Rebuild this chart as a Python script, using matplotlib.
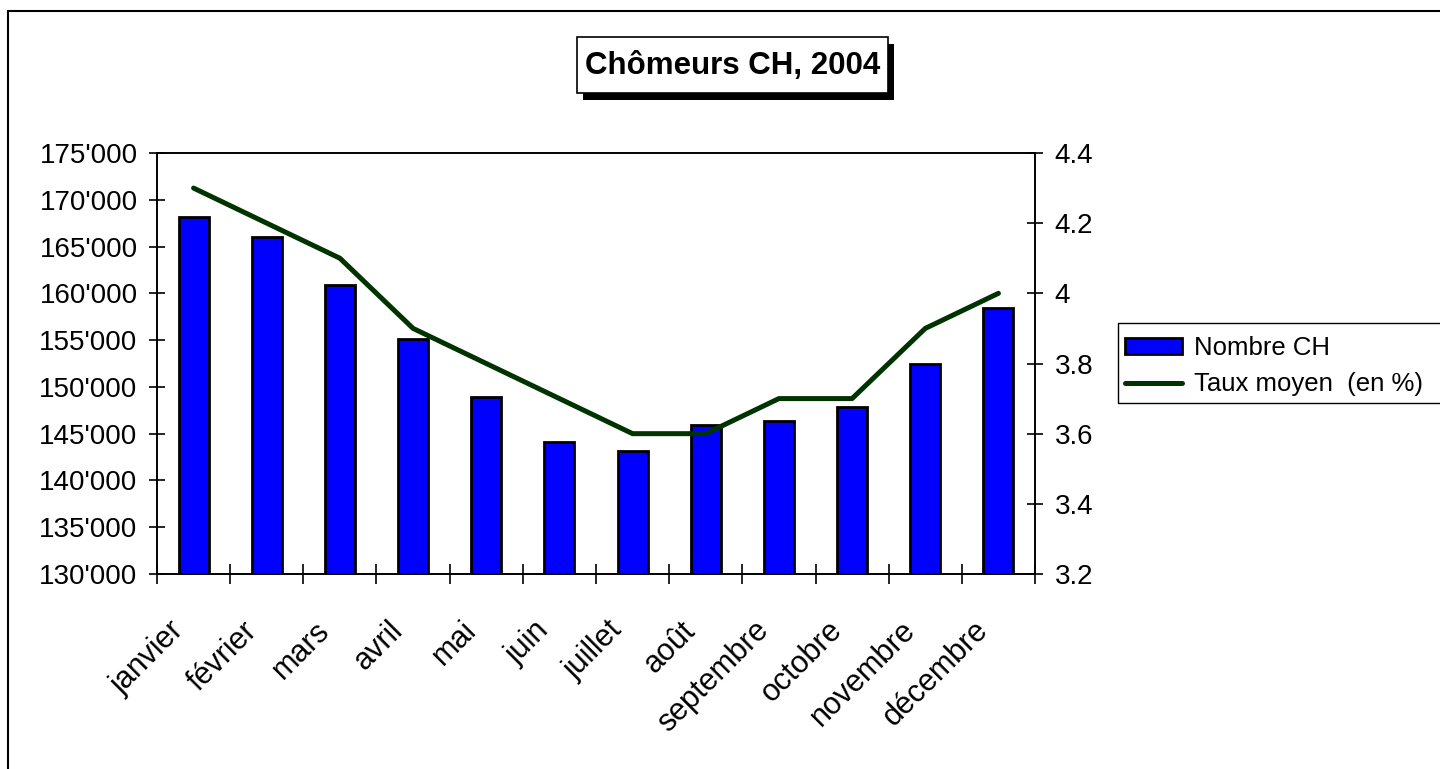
import numpy as np
import matplotlib.pyplot as plt
import matplotlib.patheffects as pe
from matplotlib.patches import Rectangle, Patch
from matplotlib.lines import Line2D
from matplotlib.ticker import FuncFormatter, FixedLocator
from matplotlib.transforms import ScaledTranslation

plt.rcParams['font.family'] = ['Liberation Sans', 'DejaVu Sans']

mois = ["janvier", "février", "mars", "avril", "mai", "juin", "juillet",
        "août", "septembre", "octobre", "novembre", "décembre"]
nombre_ch = [168200, 166000, 160900, 155100, 148900, 144100, 143100,
             145900, 146400, 147900, 152400, 158400]
taux_moyen = [4.3, 4.2, 4.1, 3.9, 3.8, 3.7, 3.6, 3.6, 3.7, 3.7, 3.9, 4.0]

fig = plt.figure(figsize=(14.4, 7.69), dpi=100)
ax = fig.add_axes([157/1440, 1-574/769, (1035-157)/1440, (574-153)/769])
ax2 = ax.twinx()

x = np.arange(len(mois))
ax.bar(x, nombre_ch, width=0.41, color='#0000ff', edgecolor='black', linewidth=2, zorder=2)
ax2.plot(x, taux_moyen, color='#003300', linewidth=3.6, solid_capstyle='round', zorder=3)

ax.set_xlim(-0.5, len(mois) - 0.5)
ax.set_ylim(130000, 175000)
ax.set_yticks(np.arange(130000, 175001, 5000))
ax.yaxis.set_major_formatter(FuncFormatter(lambda v, p: f"{int(v):,}".replace(",", "'")))
ax2.set_ylim(3.2, 4.4)
ax2.set_yticks([3.2, 3.4, 3.6, 3.8, 4.0, 4.2, 4.4])
ax2.yaxis.set_major_formatter(FuncFormatter(lambda v, p: f"{v:g}"))

# ticks between categories, labels on the centres
ax.xaxis.set_major_locator(FixedLocator(np.arange(-0.5, len(mois), 1.0)))
ax.xaxis.set_major_formatter(FuncFormatter(lambda v, p: ""))
ax.set_xticks(x, mois, minor=True)
ax.tick_params(axis='x', which='major', direction='inout', length=14, width=1.2)
ax.tick_params(axis='x', which='minor', length=0, pad=14)
shift = ScaledTranslation(-0.25, -0.22, fig.dpi_scale_trans)
for lab in ax.get_xticklabels(minor=True):
    lab.set_rotation(45)
    lab.set_ha('right')
    lab.set_va('top')
    lab.set_rotation_mode('anchor')
    lab.set_fontsize(22)
    lab.set_transform(lab.get_transform() + shift)

ax.tick_params(axis='y', direction='inout', length=12, width=1.2, labelsize=20, pad=8)
ax2.tick_params(axis='y', direction='inout', length=12, width=1.2, labelsize=20, pad=8)
for a in (ax, ax2):
    for s in a.spines.values():
        s.set_linewidth(1.2)
        s.set_color('black')

# title box with shadow
box = Rectangle((577/1440, 1-93/769), (888-577)/1440, (93-37)/769, transform=fig.transFigure,
                facecolor='white', edgecolor='black', linewidth=1.2)
box.set_path_effects([pe.SimplePatchShadow(offset=(4, -5), shadow_rgbFace='black', alpha=1), pe.Normal()])
fig.add_artist(box)
fig.text(732.5/1440, 1-66/769, "Chômeurs CH, 2004", fontsize=22.5, fontweight='bold',
         ha='center', va='center')

# legend
handles = [Patch(facecolor='#0000ff', edgecolor='black', linewidth=2),
           Line2D([0], [0], color='#003300', linewidth=3.6, solid_capstyle='round')]
fig.legend(handles, ["Nombre CH", "Taux moyen  (en %)"], loc='upper left',
           bbox_to_anchor=(1125/1440, 1-336/769), frameon=False, fontsize=18.5,
           handlelength=2.2, handleheight=0.55, handletextpad=0.5, labelspacing=0.47,
           borderpad=0, borderaxespad=0)
fig.add_artist(Rectangle((1118/1440, 1-403/769), 0.5, 80/769, transform=fig.transFigure,
                         facecolor='none', edgecolor='black', linewidth=1.0, clip_on=False))

# outer chart border (only left and top visible)
fig.add_artist(Rectangle((8/1440, -0.1), 1.2, 1.1 - 11/769, transform=fig.transFigure,
                         facecolor='none', edgecolor='black', linewidth=1.5, clip_on=False))

fig.savefig("out.png", dpi=100)
